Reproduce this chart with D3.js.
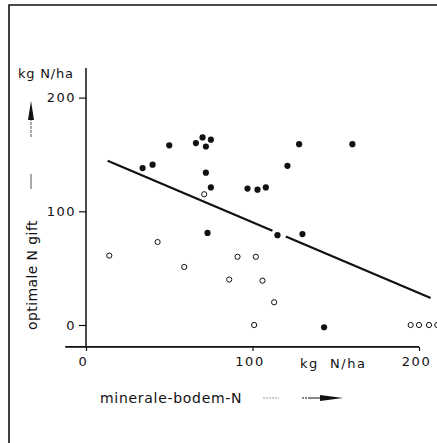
<!DOCTYPE html>
<html>
<head>
<meta charset="utf-8">
<script src="https://cdn.jsdelivr.net/npm/d3@7"></script>
<style>
  body { margin: 0; background: #fff; }
  text { font-family: "DejaVu Sans", sans-serif; fill: #111; }
</style>
</head>
<body>
<div id="chart"></div>
<script>
"use strict"

// filled dots
let filledX = [34, 40, 50, 66, 70, 72, 75, 72, 75, 73, 97, 103, 108, 121, 128, 115, 130, 160, 143];
let filledY = [138, 141, 158, 160, 165, 157, 163, 134, 121, 81, 120, 119, 121, 140, 159, 79, 80, 159, -2];
// open dots
let openX = [14, 43, 59, 71, 91, 102, 86, 106, 113, 101, 195, 200, 206, 211];
let openY = [61, 73, 51, 115, 60, 60, 40, 39, 20, 0, 0, 0, 0, 0];
// regression line, drawn in two pieces
let lineX = [[13, 112], [120, 207]];
let lineSlope = -0.622, lineIntercept = 152.5;
let tickValues = [0, 100, 200];

var width = 437, height = 443;

var svg = d3.select("#chart")
    .append("svg")
    .attr("width", width)
    .attr("height", height);

// frame
svg.append("path")
    .attr("d", "M9,443 L9,5 L437,5")
    .attr("fill", "none")
    .attr("stroke", "#111")
    .attr("stroke-width", 1.6);

var x = d3.scaleLinear().domain([0, 200]).range([86, 419]);
var y = d3.scaleLinear().domain([0, 200]).range([325, 97.6]);

// axis lines
svg.append("line")
    .attr("x1", x(0)).attr("x2", x(0))
    .attr("y1", y(226)).attr("y2", y(-20))
    .attr("stroke", "#111").attr("stroke-width", 1.5);
svg.append("line")
    .attr("x1", x(-12.5)).attr("x2", x(200))
    .attr("y1", y(-19.3)).attr("y2", y(-19.3))
    .attr("stroke", "#111").attr("stroke-width", 1.8);

// y axis ticks
var yAxis = svg.append("g")
    .attr("transform", "translate(" + x(0) + ",0)")
    .call(d3.axisLeft(y).tickValues(tickValues).tickSize(7).tickPadding(3).tickFormat(d3.format("d")));
yAxis.select(".domain").remove();
yAxis.selectAll("line").attr("stroke", "#111").attr("stroke-width", 1.2);
yAxis.selectAll("text")
    .style("font-size", "13px")
    .style("letter-spacing", "1.5px")
    .style("font-family", "DejaVu Sans")
    .attr("fill", "#111");

// x axis ticks
var xAxis = svg.append("g")
    .attr("transform", "translate(0," + y(-19.3) + ")")
    .call(d3.axisBottom(x).tickValues(tickValues).tickSize(4).tickPadding(6).tickFormat(d3.format("d")));
xAxis.select(".domain").remove();
xAxis.selectAll("line").attr("stroke", "#111").attr("stroke-width", 1.2);
xAxis.selectAll("text")
    .style("font-size", "13px")
    .style("letter-spacing", "1.5px")
    .style("font-family", "DejaVu Sans")
    .attr("fill", "#111")
    .attr("dx", "-3");

// unit labels
svg.append("text")
    .attr("x", 18).attr("y", 78)
    .style("font-size", "13px")
    .style("letter-spacing", "0.8px")
    .text("kg N/ha");
svg.append("text")
    .attr("x", 300).attr("y", 368)
    .style("font-size", "13px")
    .style("letter-spacing", "1.5px")
    .attr("xml:space", "preserve")
    .text("kg  N/ha");

// x title + arrow
svg.append("text")
    .attr("x", 100).attr("y", 403)
    .style("font-size", "14px")
    .style("letter-spacing", "0.7px")
    .text("minerale-bodem-N");
svg.append("line")
    .attr("x1", 263).attr("x2", 279).attr("y1", 398).attr("y2", 398)
    .attr("stroke", "#999").attr("stroke-width", 1).attr("stroke-dasharray", "2,1");
svg.append("line")
    .attr("x1", 302).attr("x2", 325).attr("y1", 398).attr("y2", 398)
    .attr("stroke", "#111").attr("stroke-width", 1.2).attr("stroke-dasharray", "2,1,2,1,20");
svg.append("path")
    .attr("d", "M320,395 L343,398 L320,401 Z")
    .attr("fill", "#111");

// y title + arrow
svg.append("text")
    .attr("transform", "translate(37,330) rotate(-90)")
    .style("font-size", "14px")
    .style("letter-spacing", "0.4px")
    .text("optimale N gift");
svg.append("line")
    .attr("x1", 31).attr("x2", 31).attr("y1", 174).attr("y2", 189)
    .attr("stroke", "#555").attr("stroke-width", 1);
svg.append("line")
    .attr("x1", 31).attr("x2", 31).attr("y1", 118).attr("y2", 138)
    .attr("stroke", "#555").attr("stroke-width", 1).attr("stroke-dasharray", "3,1");
svg.append("path")
    .attr("d", "M28,120 L31,101 L34,120 Z")
    .attr("fill", "#111");

// regression line
var lineGen = d3.line()
    .x(function (d) { return x(d); })
    .y(function (d) { return y(lineIntercept + lineSlope * d); });
svg.append("g")
    .selectAll("path")
    .data(lineX)
    .enter()
    .append("path")
    .attr("d", function (d) { return lineGen(d); })
    .attr("fill", "none")
    .attr("stroke", "#111")
    .attr("stroke-width", 2.2);

// dots
svg.append("g")
    .selectAll("circle")
    .data(filledX.map(function (v, i) { return [v, filledY[i]]; }))
    .enter()
    .append("circle")
    .attr("cx", function (d) { return x(d[0]); })
    .attr("cy", function (d) { return y(d[1]); })
    .attr("r", 3.1)
    .attr("fill", "#111");

svg.append("g")
    .selectAll("circle")
    .data(openX.map(function (v, i) { return [v, openY[i]]; }))
    .enter()
    .append("circle")
    .attr("cx", function (d) { return x(d[0]); })
    .attr("cy", function (d) { return y(d[1]); })
    .attr("r", 2.6)
    .attr("fill", "#fff")
    .attr("stroke", "#111")
    .attr("stroke-width", 1);
</script>
</body>
</html>
